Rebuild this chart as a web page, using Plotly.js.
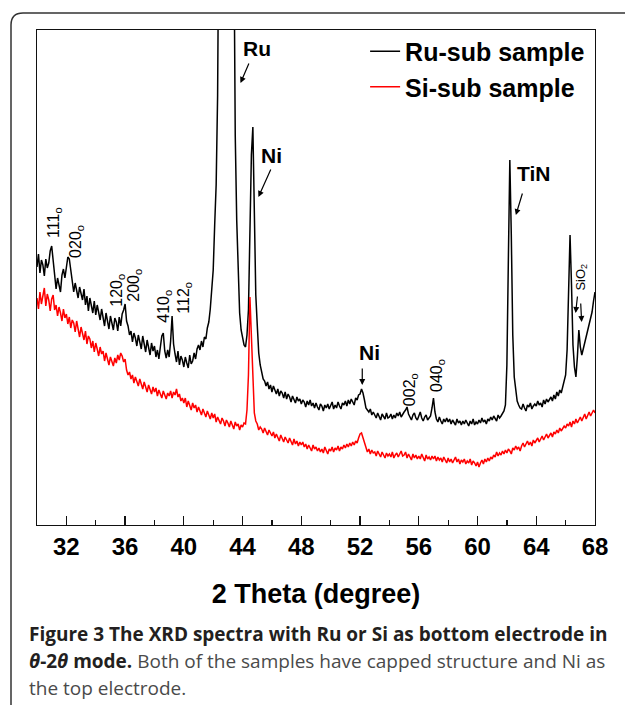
<!DOCTYPE html>
<html>
<head>
<meta charset="utf-8">
<script src="https://cdn.plot.ly/plotly-3.0.1.min.js"></script>
<style>
  html, body { margin: 0; padding: 0; background: #fff; }
  #chart { width: 625px; height: 705px; }
</style>
</head>
<body>
<div id="chart"></div>
<script>
// ---- Data (2 Theta from 30 to 68 deg, step 0.1 deg; intensity in arbitrary units) ----
const twoThetaStart = 30;
const twoThetaStep = 0.1;

const seriesNames = ['Ru-sub sample', 'Si-sub sample'];

const ruSub = [
  258,271,252,265,260,249,266,257,262,274,
  279,262,251,236,247,241,233,250,256,247,
  259,268,266,253,246,233,242,236,227,238,
  231,225,236,220,229,214,227,221,212,224,
  210,220,213,205,216,207,199,212,204,196,
  209,201,195,207,203,194,208,199,211,215,
  221,204,199,190,194,183,192,187,179,190,
  184,176,189,180,173,185,178,170,182,174,
  179,168,175,166,178,189,192,174,167,175,
  168,184,209,181,171,163,174,160,169,165,
  158,168,162,157,170,161,164,172,166,176,
  180,175,184,178,188,186,197,203,216,233,
  255,300,340,430,700,1100,1400,1500,1550,1500,
  1400,1250,1050,850,560,390,305,245,212,195,
  185,180,178,190,215,290,370,398,285,230,
  200,172,160,153,146,144,139,143,136,140,
  133,139,135,131,136,129,134,132,127,133,
  126,131,128,123,129,125,122,128,124,126,
  121,125,123,118,124,120,125,119,122,117,
  122,118,115,121,119,114,120,117,121,116,
  119,123,116,120,117,123,119,116,122,120,
  124,119,125,121,126,122,120,127,125,130,
  131,136,132,125,117,115,113,116,110,113,
  110,107,112,108,105,111,109,106,112,107,
  108,111,106,110,107,112,109,113,108,111,
  113,115,118,111,107,105,110,112,107,105,
  109,113,107,104,108,110,105,107,109,117,
  127,113,106,103,108,104,101,106,103,107,
  103,106,101,105,103,100,106,102,104,100,
  104,101,105,102,99,104,101,106,100,103,
  101,105,102,107,103,105,101,106,104,108,
  105,109,106,104,110,107,109,112,114,120,
  160,265,365,290,190,148,132,124,120,117,
  116,121,117,114,120,118,122,116,119,121,
  119,124,120,122,118,125,121,126,123,125,
  128,124,130,126,133,129,135,132,138,142,
  150,175,225,290,240,180,158,148,168,195,
  178,170,176,182,187,193,198,204,213,224,
  233
];

const siSub = [
  227,216,233,221,229,237,219,231,225,214,
  226,230,215,220,209,218,212,204,216,207,
  211,201,208,197,205,202,193,204,196,188,
  198,190,185,194,181,189,186,177,184,173,
  182,176,169,178,171,174,164,172,167,160,
  168,163,159,167,162,170,165,172,169,163,
  166,155,150,153,146,150,142,148,144,139,
  146,140,136,143,138,133,140,135,131,138,
  133,137,129,135,131,127,134,129,126,132,
  129,134,127,133,130,136,128,131,124,127,
  122,127,118,124,120,115,122,117,120,113,
  118,114,110,116,112,108,114,110,106,112,
  107,111,103,108,105,101,107,104,99,105,
  102,98,104,100,96,103,99,101,95,100,
  98,102,101,115,150,228,190,135,112,104,
  101,95,98,96,92,97,93,90,95,91,
  89,93,87,91,88,84,90,86,83,88,
  85,82,87,83,80,86,81,84,79,83,
  80,83,78,81,76,80,77,74,80,76,
  78,74,77,73,76,72,78,74,71,76,
  74,78,73,77,75,79,74,78,76,80,
  77,81,78,82,79,83,80,84,82,87,
  91,92,87,81,78,73,76,71,75,72,
  73,69,74,70,68,73,70,67,72,69,
  71,68,73,67,70,72,68,71,74,69,
  70,73,67,71,68,65,71,67,70,66,
  69,66,71,67,64,70,66,68,65,69,
  66,69,64,68,65,67,63,68,65,62,
  67,63,66,62,65,68,63,66,61,65,
  63,66,61,64,62,66,60,64,62,59,
  63,58,62,65,61,66,63,67,64,68,
  66,70,68,73,69,72,70,74,71,75,
  72,76,74,71,77,75,79,76,78,74,
  79,82,78,81,84,80,83,79,85,82,
  84,87,83,86,89,85,88,91,87,90,
  92,88,93,91,95,92,97,94,96,99,
  97,101,99,103,98,104,101,106,102,105,
  108,104,107,111,106,110,113,109,112,115,
  112
];

// Phase labels with arrows
const phaseLabels = ['Ru', 'Ni', 'TiN', 'Ni'];
const phaseLabelX = [44.95, 45.96, 63.83, 52.62];
const phaseLabelY = [477, 370, 352, 173];
const phaseArrowX = [43.86, 45.08, 62.61, 52.15];
const phaseArrowY = [442, 328, 310, 140];

// hkl labels (rotated)
const hklLabels = ['111', '020', '120', '200', '410', '112', '002', '040'];
const hklX = [31.15, 32.65, 35.43, 36.59, 38.63, 39.99, 55.41, 57.24];
const hklY = [303, 284, 235, 240, 219, 227, 135, 149];

const sio2Label = 'SiO<sub>2</sub>';
const sio2ArrowX = [66.68, 67.09];
const sio2ArrowY = [212, 203];

const xTitle = '2 Theta (degree)';
const captionLines = [
  '<b>Figure 3 The XRD spectra with Ru or Si as bottom electrode in</b>',
  '<b><i>θ</i>-2<i>θ</i> mode.</b> <span style="color:#4a4a4a">Both of the samples have capped structure and Ni as</span>',
  '<span style="color:#4a4a4a">the top electrode.</span>'
];

// ---- Styling ----
const AX_FONT = 'Liberation Sans, Arial, Helvetica, sans-serif';
const CAP_FONT = 'Open Sans, Noto Sans, sans-serif';

const traces = [
  { type: 'scatter', mode: 'lines', name: seriesNames[0],
    x0: twoThetaStart, dx: twoThetaStep, y: ruSub,
    line: { color: '#000000', width: 1.5 } },
  { type: 'scatter', mode: 'lines', name: seriesNames[1],
    x0: twoThetaStart, dx: twoThetaStep, y: siSub,
    line: { color: '#ff0000', width: 1.5 } }
];

const annotations = [];
phaseLabels.forEach((t, i) => {
  annotations.push({ x: phaseLabelX[i], y: phaseLabelY[i], xref: 'x', yref: 'y',
    text: t, showarrow: false, font: { family: AX_FONT, size: 21, weight: 700, color: '#000' } });
});
const phaseArrowTail = [[9, -21], [13, -29], [7, -23], [0, -18]];
phaseArrowX.forEach((ax, i) => {
  annotations.push({ x: ax, y: phaseArrowY[i], xref: 'x', yref: 'y', text: '',
    showarrow: true, arrowhead: 2, arrowsize: 1, arrowwidth: 1.2, arrowcolor: '#000',
    ax: phaseArrowTail[i][0], ay: phaseArrowTail[i][1], standoff: 0, startstandoff: 0 });
});
hklLabels.forEach((t, i) => {
  annotations.push({ x: hklX[i], y: hklY[i], xref: 'x', yref: 'y',
    text: t + '<sub>o</sub>', textangle: -90, showarrow: false,
    font: { family: AX_FONT, size: 16, color: '#000' } });
});
annotations.push({ x: 67.02, y: 248, xref: 'x', yref: 'y', text: sio2Label, textangle: -90,
  showarrow: false, font: { family: AX_FONT, size: 13, color: '#000' } });
const sio2Tail = [[2, -18], [-1, -20]];
sio2ArrowX.forEach((ax, i) => {
  annotations.push({ x: ax, y: sio2ArrowY[i], xref: 'x', yref: 'y', text: '',
    showarrow: true, arrowhead: 2, arrowsize: 1, arrowwidth: 1.2, arrowcolor: '#000',
    ax: sio2Tail[i][0], ay: sio2Tail[i][1], standoff: 0, startstandoff: 0 });
});
const capY = [-0.2202, -0.2747, -0.3293];
captionLines.forEach((t, i) => {
  annotations.push({ x: -0.0179, y: capY[i], xref: 'paper', yref: 'paper',
    xanchor: 'left', yanchor: 'middle', align: 'left', text: t, showarrow: false,
    font: { family: CAP_FONT, size: 19, color: '#231f20' } });
});

// figure frame (rounded corner box)
const pw = 558, ph = 495;
const xl = (11 - 37) / pw, yt = (525 - 13) / ph, yb = (525 - 730) / ph, xr = (660 - 37) / pw;
const rx = 12 / pw, ry = 12 / ph;
const shapes = [{
  type: 'path', xref: 'paper', yref: 'paper',
  path: `M ${xl},${yb} L ${xl},${yt - ry} Q ${xl},${yt} ${xl + rx},${yt} L ${xr},${yt}`,
  line: { color: '#333', width: 1.5 }
}];

const layout = {
  width: 625, height: 705,
  margin: { l: 37, r: 30, t: 30, b: 180, pad: 0 },
  paper_bgcolor: '#fff', plot_bgcolor: '#fff',
  showlegend: true,
  legend: { x: 0.588, y: 1.003, xanchor: 'left', yanchor: 'top',
    font: { family: AX_FONT, size: 25, weight: 700, color: '#000' },
    bgcolor: 'rgba(0,0,0,0)', borderwidth: 0, tracegroupgap: 0 },
  xaxis: {
    range: [30, 68], tick0: 0, dtick: 4, ticks: 'inside', ticklen: 9, tickwidth: 1.3,
    tickcolor: '#111', showline: true, mirror: true, linecolor: '#111', linewidth: 1.3,
    showgrid: false, zeroline: false,
    tickfont: { family: AX_FONT, size: 24, weight: 700, color: '#000' },
    minor: { dtick: 2, ticks: 'inside', ticklen: 5, tickwidth: 1.3, tickcolor: '#111', showgrid: false },
    title: { text: xTitle, standoff: 25, font: { family: AX_FONT, size: 27, weight: 700, color: '#000' } }
  },
  yaxis: {
    range: [0, 495], showticklabels: false, ticks: '', showline: true, mirror: true,
    linecolor: '#111', linewidth: 1.3, showgrid: false, zeroline: false
  },
  annotations: annotations,
  shapes: shapes
};

Plotly.newPlot('chart', traces, layout, { staticPlot: true, displayModeBar: false });
</script>
</body>
</html>
